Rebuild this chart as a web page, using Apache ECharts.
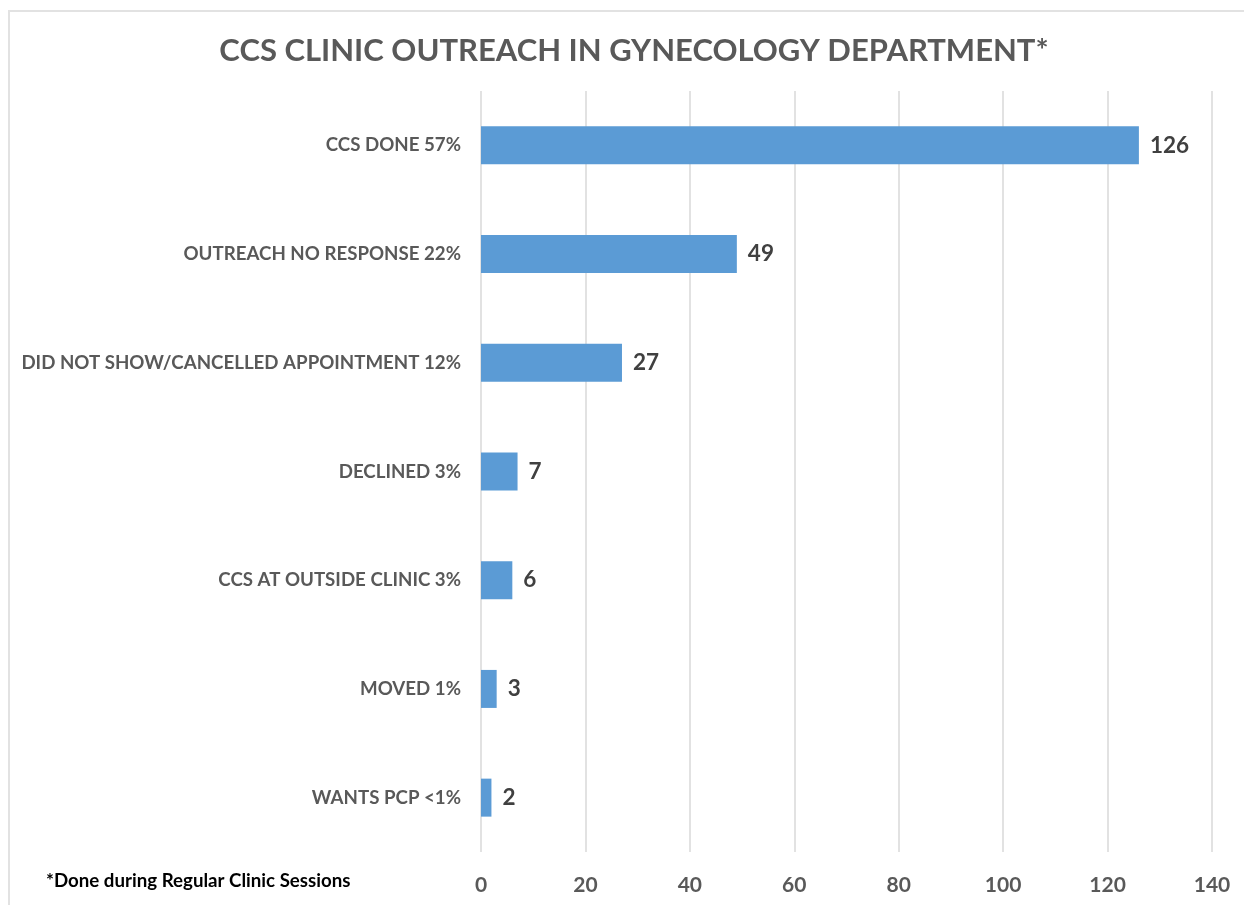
<!DOCTYPE html>
<html>
<head>
<meta charset="utf-8">
<script src="https://cdn.jsdelivr.net/npm/echarts@6/dist/echarts.min.js"></script>
<style>
html,body{margin:0;padding:0;background:#fff;}
#chart{width:1244px;height:905px;}
</style>
</head>
<body>
<div id="chart"></div>
<script>
const categories = [
  "CCS DONE 57%",
  "OUTREACH NO RESPONSE 22%",
  "DID NOT SHOW/CANCELLED APPOINTMENT 12%",
  "DECLINED 3%",
  "CCS AT OUTSIDE CLINIC 3%",
  "MOVED 1%",
  "WANTS PCP <1%"
];
const values = [126, 49, 27, 7, 6, 3, 2];
const titleText = "CCS CLINIC OUTREACH IN GYNECOLOGY DEPARTMENT*";
const footnote = "*Done during Regular Clinic Sessions";

const FONT = "Lato, 'Open Sans', sans-serif";
const chart = echarts.init(document.getElementById('chart'), null, {renderer: 'canvas'});
chart.setOption({
  animation: false,
  backgroundColor: '#ffffff',
  title: {
    text: titleText,
    left: 629, top: 30, textAlign: 'center',
    textStyle: {fontFamily: FONT, fontWeight: 'bold', fontSize: 31, color: '#595959'}
  },
  graphic: [
    {type: 'rect', shape: {x: 9, y: 11, width: 1400, height: 1200}, style: {fill: 'none', stroke: '#e2e2e2', lineWidth: 2}, silent: true},
    {type: 'text', left: 46, top: 871, style: {text: footnote, fontFamily: FONT, fontWeight: 'bold', fontSize: 18.7, fill: '#000000'}}
  ],
  grid: {left: 481, right: 32, top: 91, bottom: 53, containLabel: false},
  xAxis: {
    type: 'value', min: 0, max: 140, interval: 20,
    axisLine: {show: false}, axisTick: {show: false},
    splitLine: {show: true, lineStyle: {color: '#d9d9d9', width: 1.5}},
    axisLabel: {fontFamily: FONT, fontWeight: 'bold', fontSize: 21, color: '#595959', margin: 23}
  },
  yAxis: {
    type: 'category', data: categories, inverse: true,
    axisLine: {show: false}, axisTick: {show: false},
    axisLabel: {fontFamily: FONT, fontWeight: 'bold', fontSize: 18.7, color: '#595959', margin: 20}
  },
  series: [{
    type: 'bar', data: values, barWidth: 38,
    itemStyle: {color: '#5B9BD5'},
    label: {show: true, position: 'right', distance: 11, fontFamily: FONT, fontWeight: 'bold', fontSize: 22.5, color: '#404040'}
  }]
});
</script>
</body>
</html>
